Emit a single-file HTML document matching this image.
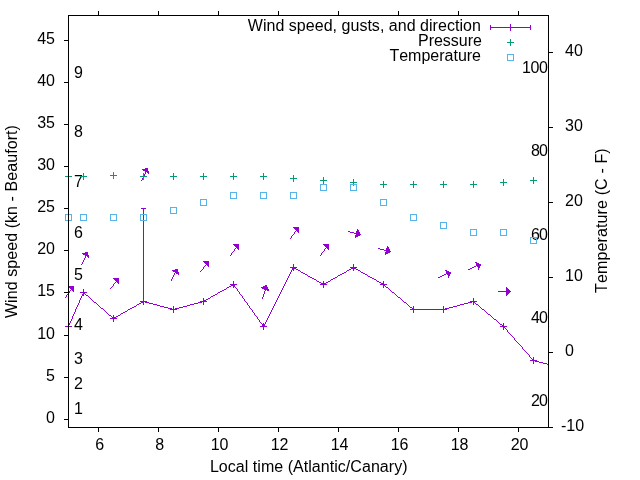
<!DOCTYPE html>
<html><head><meta charset="utf-8"><title>Wind plot</title>
<style>
html,body{margin:0;padding:0;background:#fff;}
svg{display:block}
text{font-kerning:none;font-family:"Liberation Sans",sans-serif;font-size:16px;fill:#000}
</style></head><body>
<svg width="640" height="480" viewBox="0 0 640 480">
<rect width="640" height="480" fill="#fff"/>
<g>
<text x="74" y="414" text-anchor="start" >1</text>
<text x="74" y="389" text-anchor="start" >2</text>
<text x="74" y="364" text-anchor="start" >3</text>
<text x="74" y="330" text-anchor="start" >4</text>
<text x="74" y="280" text-anchor="start" >5</text>
<text x="74" y="238" text-anchor="start" >6</text>
<text x="74" y="187" text-anchor="start" >7</text>
<text x="74" y="137" text-anchor="start" >8</text>
<text x="74" y="78" text-anchor="start" >9</text>
<text x="548" y="406" text-anchor="end" textLength="17.1">20</text>
<text x="548" y="323" text-anchor="end" textLength="17.1">40</text>
<text x="548" y="240" text-anchor="end" textLength="17.1">60</text>
<text x="548" y="156" text-anchor="end" textLength="17.1">80</text>
<text x="548" y="73" text-anchor="end" textLength="25.95">100</text>
</g>
<g shape-rendering="crispEdges">
<path fill="#9400d3" d="M510 24h1v1h-1zM490 25h1v1h-1zM510 25h1v1h-1zM530 25h1v1h-1zM490 26h1v1h-1zM510 26h1v1h-1zM530 26h1v1h-1zM490 27h41v1h-41zM490 28h1v1h-1zM510 28h1v1h-1zM530 28h1v1h-1zM490 29h1v1h-1zM510 29h1v1h-1zM530 29h1v1h-1zM510 30h1v1h-1zM145 168h3v1h-3zM142 169h6v1h-6zM143 170h5v1h-5zM145 171h4v1h-4zM145 172h1v1h-1zM147 172h2v1h-2zM145 173h1v1h-1zM148 173h1v1h-1zM144 174h1v1h-1zM144 175h1v1h-1zM142 178h1v1h-1zM142 179h1v1h-1zM141 180h1v1h-1zM141 208h5v1h-5zM143 209h1v1h-1zM143 210h1v1h-1zM143 211h1v1h-1zM143 212h1v1h-1zM143 213h1v1h-1zM143 215h1v1h-1zM143 216h1v1h-1zM143 217h1v1h-1zM143 218h1v1h-1zM143 219h1v1h-1zM143 221h1v1h-1zM143 222h1v1h-1zM143 223h1v1h-1zM143 224h1v1h-1zM143 225h1v1h-1zM143 226h1v1h-1zM143 227h1v1h-1zM293 227h6v1h-6zM143 228h1v1h-1zM294 228h5v1h-5zM143 229h1v1h-1zM295 229h4v1h-4zM357 229h1v1h-1zM143 230h1v1h-1zM296 230h3v1h-3zM357 230h2v1h-2zM143 231h1v1h-1zM295 231h1v1h-1zM297 231h2v1h-2zM348 231h2v1h-2zM356 231h3v1h-3zM143 232h1v1h-1zM294 232h1v1h-1zM298 232h1v1h-1zM350 232h4v1h-4zM356 232h4v1h-4zM143 233h1v1h-1zM294 233h1v1h-1zM354 233h6v1h-6zM143 234h1v1h-1zM293 234h1v1h-1zM356 234h5v1h-5zM143 235h1v1h-1zM292 235h1v1h-1zM355 235h5v1h-5zM143 236h1v1h-1zM291 236h1v1h-1zM355 236h3v1h-3zM143 237h1v1h-1zM291 237h1v1h-1zM355 237h1v1h-1zM143 238h1v1h-1zM290 238h1v1h-1zM143 239h1v1h-1zM143 240h1v1h-1zM143 241h1v1h-1zM143 242h1v1h-1zM143 243h1v1h-1zM143 244h1v1h-1zM233 244h6v1h-6zM323 244h6v1h-6zM143 245h1v1h-1zM234 245h5v1h-5zM324 245h5v1h-5zM143 246h1v1h-1zM235 246h4v1h-4zM325 246h4v1h-4zM387 246h1v1h-1zM143 247h1v1h-1zM236 247h3v1h-3zM326 247h3v1h-3zM387 247h2v1h-2zM143 248h1v1h-1zM235 248h1v1h-1zM237 248h2v1h-2zM325 248h1v1h-1zM327 248h2v1h-2zM378 248h2v1h-2zM386 248h3v1h-3zM143 249h1v1h-1zM234 249h1v1h-1zM238 249h1v1h-1zM324 249h1v1h-1zM328 249h1v1h-1zM380 249h4v1h-4zM386 249h4v1h-4zM143 250h1v1h-1zM234 250h1v1h-1zM324 250h1v1h-1zM384 250h6v1h-6zM143 251h1v1h-1zM233 251h1v1h-1zM323 251h1v1h-1zM386 251h5v1h-5zM85 252h3v1h-3zM143 252h1v1h-1zM232 252h1v1h-1zM322 252h1v1h-1zM385 252h5v1h-5zM82 253h6v1h-6zM143 253h1v1h-1zM231 253h1v1h-1zM321 253h1v1h-1zM385 253h3v1h-3zM83 254h5v1h-5zM143 254h1v1h-1zM231 254h1v1h-1zM321 254h1v1h-1zM385 254h1v1h-1zM85 255h4v1h-4zM143 255h1v1h-1zM230 255h1v1h-1zM320 255h1v1h-1zM85 256h1v1h-1zM87 256h2v1h-2zM143 256h1v1h-1zM85 257h1v1h-1zM88 257h1v1h-1zM143 257h1v1h-1zM84 258h1v1h-1zM143 258h1v1h-1zM84 259h1v1h-1zM143 259h1v1h-1zM83 260h1v1h-1zM143 260h1v1h-1zM83 261h1v1h-1zM143 261h1v1h-1zM203 261h6v1h-6zM82 262h1v1h-1zM143 262h1v1h-1zM204 262h5v1h-5zM475 262h2v1h-2zM82 263h1v1h-1zM143 263h1v1h-1zM205 263h4v1h-4zM476 263h3v1h-3zM81 264h1v1h-1zM143 264h1v1h-1zM206 264h3v1h-3zM293 264h1v1h-1zM353 264h1v1h-1zM476 264h5v1h-5zM143 265h1v1h-1zM205 265h1v1h-1zM207 265h2v1h-2zM293 265h1v1h-1zM353 265h1v1h-1zM476 265h5v1h-5zM143 266h1v1h-1zM204 266h1v1h-1zM208 266h1v1h-1zM293 266h1v1h-1zM353 266h1v1h-1zM474 266h2v1h-2zM477 266h3v1h-3zM143 267h1v1h-1zM203 267h1v1h-1zM290 267h7v1h-7zM350 267h7v1h-7zM472 267h2v1h-2zM478 267h2v1h-2zM143 268h1v1h-1zM203 268h1v1h-1zM292 268h4v1h-4zM351 268h5v1h-5zM470 268h2v1h-2zM478 268h1v1h-1zM143 269h1v1h-1zM175 269h3v1h-3zM202 269h1v1h-1zM292 269h2v1h-2zM296 269h2v1h-2zM349 269h2v1h-2zM353 269h1v1h-1zM356 269h2v1h-2zM468 269h2v1h-2zM478 269h1v1h-1zM143 270h1v1h-1zM172 270h6v1h-6zM201 270h1v1h-1zM291 270h1v1h-1zM293 270h1v1h-1zM298 270h2v1h-2zM347 270h2v1h-2zM353 270h1v1h-1zM358 270h2v1h-2zM445 270h2v1h-2zM143 271h1v1h-1zM173 271h5v1h-5zM200 271h1v1h-1zM291 271h1v1h-1zM300 271h1v1h-1zM346 271h1v1h-1zM360 271h1v1h-1zM446 271h3v1h-3zM143 272h1v1h-1zM175 272h4v1h-4zM290 272h1v1h-1zM301 272h2v1h-2zM344 272h2v1h-2zM361 272h2v1h-2zM446 272h5v1h-5zM143 273h1v1h-1zM174 273h1v1h-1zM176 273h3v1h-3zM290 273h1v1h-1zM303 273h2v1h-2zM342 273h2v1h-2zM363 273h2v1h-2zM446 273h5v1h-5zM143 274h1v1h-1zM174 274h1v1h-1zM178 274h1v1h-1zM289 274h1v1h-1zM305 274h2v1h-2zM340 274h2v1h-2zM365 274h2v1h-2zM444 274h2v1h-2zM447 274h3v1h-3zM143 275h1v1h-1zM173 275h1v1h-1zM289 275h1v1h-1zM307 275h1v1h-1zM338 275h2v1h-2zM367 275h1v1h-1zM442 275h2v1h-2zM448 275h2v1h-2zM143 276h1v1h-1zM173 276h1v1h-1zM288 276h1v1h-1zM308 276h2v1h-2zM337 276h1v1h-1zM368 276h2v1h-2zM440 276h2v1h-2zM448 276h1v1h-1zM143 277h1v1h-1zM172 277h1v1h-1zM288 277h1v1h-1zM310 277h2v1h-2zM335 277h2v1h-2zM370 277h2v1h-2zM438 277h2v1h-2zM448 277h1v1h-1zM113 278h6v1h-6zM143 278h1v1h-1zM172 278h1v1h-1zM287 278h1v1h-1zM312 278h2v1h-2zM333 278h2v1h-2zM372 278h2v1h-2zM114 279h5v1h-5zM143 279h1v1h-1zM171 279h1v1h-1zM287 279h1v1h-1zM314 279h2v1h-2zM331 279h2v1h-2zM374 279h2v1h-2zM115 280h4v1h-4zM143 280h1v1h-1zM171 280h1v1h-1zM286 280h1v1h-1zM316 280h1v1h-1zM330 280h1v1h-1zM376 280h1v1h-1zM116 281h3v1h-3zM143 281h1v1h-1zM233 281h1v1h-1zM286 281h1v1h-1zM317 281h2v1h-2zM323 281h1v1h-1zM328 281h2v1h-2zM377 281h2v1h-2zM383 281h1v1h-1zM115 282h1v1h-1zM117 282h2v1h-2zM143 282h1v1h-1zM233 282h1v1h-1zM285 282h1v1h-1zM319 282h2v1h-2zM323 282h1v1h-1zM326 282h2v1h-2zM379 282h2v1h-2zM383 282h1v1h-1zM114 283h1v1h-1zM118 283h1v1h-1zM143 283h1v1h-1zM233 283h1v1h-1zM285 283h1v1h-1zM321 283h5v1h-5zM381 283h3v1h-3zM113 284h1v1h-1zM143 284h1v1h-1zM230 284h7v1h-7zM284 284h1v1h-1zM320 284h7v1h-7zM380 284h7v1h-7zM113 285h1v1h-1zM143 285h1v1h-1zM231 285h4v1h-4zM265 285h2v1h-2zM284 285h1v1h-1zM323 285h1v1h-1zM383 285h2v1h-2zM69 286h5v1h-5zM112 286h1v1h-1zM143 286h1v1h-1zM229 286h2v1h-2zM233 286h2v1h-2zM263 286h4v1h-4zM283 286h1v1h-1zM323 286h1v1h-1zM383 286h1v1h-1zM385 286h1v1h-1zM69 287h5v1h-5zM111 287h1v1h-1zM143 287h1v1h-1zM227 287h2v1h-2zM233 287h1v1h-1zM235 287h1v1h-1zM261 287h7v1h-7zM283 287h1v1h-1zM323 287h1v1h-1zM383 287h1v1h-1zM386 287h2v1h-2zM506 287h1v1h-1zM70 288h4v1h-4zM110 288h1v1h-1zM143 288h1v1h-1zM226 288h1v1h-1zM236 288h1v1h-1zM262 288h6v1h-6zM282 288h1v1h-1zM388 288h1v1h-1zM506 288h2v1h-2zM71 289h3v1h-3zM83 289h1v1h-1zM143 289h1v1h-1zM224 289h2v1h-2zM237 289h1v1h-1zM264 289h5v1h-5zM282 289h1v1h-1zM389 289h1v1h-1zM506 289h3v1h-3zM70 290h1v1h-1zM72 290h2v1h-2zM83 290h1v1h-1zM143 290h1v1h-1zM222 290h2v1h-2zM237 290h1v1h-1zM265 290h1v1h-1zM267 290h2v1h-2zM281 290h1v1h-1zM390 290h1v1h-1zM506 290h4v1h-4zM69 291h1v1h-1zM73 291h1v1h-1zM83 291h1v1h-1zM143 291h1v1h-1zM220 291h2v1h-2zM238 291h1v1h-1zM264 291h1v1h-1zM281 291h1v1h-1zM391 291h1v1h-1zM498 291h13v1h-13zM69 292h1v1h-1zM80 292h7v1h-7zM143 292h1v1h-1zM218 292h2v1h-2zM239 292h1v1h-1zM264 292h1v1h-1zM280 292h1v1h-1zM392 292h2v1h-2zM506 292h4v1h-4zM83 293h2v1h-2zM143 293h1v1h-1zM217 293h1v1h-1zM239 293h1v1h-1zM264 293h1v1h-1zM280 293h1v1h-1zM394 293h1v1h-1zM506 293h3v1h-3zM67 294h1v1h-1zM82 294h2v1h-2zM85 294h1v1h-1zM143 294h1v1h-1zM215 294h2v1h-2zM240 294h1v1h-1zM263 294h1v1h-1zM279 294h1v1h-1zM395 294h1v1h-1zM506 294h2v1h-2zM66 295h1v1h-1zM82 295h2v1h-2zM86 295h2v1h-2zM143 295h1v1h-1zM213 295h2v1h-2zM241 295h1v1h-1zM263 295h1v1h-1zM279 295h1v1h-1zM396 295h1v1h-1zM506 295h1v1h-1zM66 296h1v1h-1zM81 296h1v1h-1zM88 296h1v1h-1zM143 296h1v1h-1zM211 296h2v1h-2zM242 296h1v1h-1zM263 296h1v1h-1zM278 296h1v1h-1zM397 296h1v1h-1zM65 297h1v1h-1zM81 297h1v1h-1zM89 297h1v1h-1zM143 297h1v1h-1zM210 297h1v1h-1zM242 297h1v1h-1zM262 297h1v1h-1zM278 297h1v1h-1zM398 297h2v1h-2zM80 298h1v1h-1zM90 298h1v1h-1zM143 298h1v1h-1zM203 298h1v1h-1zM208 298h2v1h-2zM243 298h1v1h-1zM262 298h1v1h-1zM277 298h1v1h-1zM400 298h1v1h-1zM473 298h1v1h-1zM80 299h1v1h-1zM91 299h1v1h-1zM143 299h1v1h-1zM203 299h1v1h-1zM206 299h2v1h-2zM244 299h1v1h-1zM277 299h1v1h-1zM401 299h1v1h-1zM473 299h1v1h-1zM79 300h1v1h-1zM92 300h1v1h-1zM143 300h1v1h-1zM203 300h3v1h-3zM244 300h1v1h-1zM276 300h1v1h-1zM402 300h1v1h-1zM473 300h1v1h-1zM79 301h1v1h-1zM93 301h1v1h-1zM140 301h7v1h-7zM200 301h7v1h-7zM245 301h1v1h-1zM276 301h1v1h-1zM403 301h1v1h-1zM470 301h7v1h-7zM79 302h1v1h-1zM94 302h2v1h-2zM141 302h3v1h-3zM145 302h4v1h-4zM198 302h4v1h-4zM203 302h1v1h-1zM246 302h1v1h-1zM275 302h1v1h-1zM404 302h2v1h-2zM468 302h4v1h-4zM473 302h2v1h-2zM78 303h1v1h-1zM96 303h1v1h-1zM139 303h2v1h-2zM143 303h1v1h-1zM149 303h4v1h-4zM194 303h4v1h-4zM203 303h1v1h-1zM247 303h1v1h-1zM275 303h1v1h-1zM406 303h1v1h-1zM464 303h4v1h-4zM473 303h1v1h-1zM475 303h1v1h-1zM78 304h1v1h-1zM97 304h1v1h-1zM137 304h2v1h-2zM143 304h1v1h-1zM153 304h4v1h-4zM190 304h4v1h-4zM203 304h1v1h-1zM247 304h1v1h-1zM274 304h1v1h-1zM407 304h1v1h-1zM460 304h4v1h-4zM473 304h1v1h-1zM476 304h2v1h-2zM77 305h1v1h-1zM98 305h1v1h-1zM136 305h1v1h-1zM157 305h3v1h-3zM187 305h3v1h-3zM248 305h1v1h-1zM274 305h1v1h-1zM408 305h1v1h-1zM457 305h3v1h-3zM478 305h1v1h-1zM77 306h1v1h-1zM99 306h1v1h-1zM134 306h2v1h-2zM160 306h4v1h-4zM173 306h1v1h-1zM183 306h4v1h-4zM249 306h1v1h-1zM273 306h1v1h-1zM409 306h1v1h-1zM413 306h1v1h-1zM443 306h1v1h-1zM453 306h4v1h-4zM479 306h1v1h-1zM76 307h1v1h-1zM100 307h1v1h-1zM132 307h2v1h-2zM164 307h4v1h-4zM173 307h1v1h-1zM179 307h4v1h-4zM249 307h1v1h-1zM273 307h1v1h-1zM410 307h2v1h-2zM413 307h1v1h-1zM443 307h1v1h-1zM449 307h4v1h-4zM480 307h1v1h-1zM76 308h1v1h-1zM101 308h2v1h-2zM130 308h2v1h-2zM168 308h4v1h-4zM173 308h1v1h-1zM175 308h4v1h-4zM250 308h1v1h-1zM272 308h1v1h-1zM412 308h2v1h-2zM443 308h1v1h-1zM445 308h4v1h-4zM481 308h1v1h-1zM75 309h1v1h-1zM103 309h1v1h-1zM128 309h2v1h-2zM170 309h7v1h-7zM251 309h1v1h-1zM272 309h1v1h-1zM410 309h37v1h-37zM482 309h2v1h-2zM75 310h1v1h-1zM104 310h1v1h-1zM127 310h1v1h-1zM173 310h1v1h-1zM252 310h1v1h-1zM271 310h1v1h-1zM413 310h1v1h-1zM443 310h1v1h-1zM484 310h1v1h-1zM75 311h1v1h-1zM105 311h1v1h-1zM125 311h2v1h-2zM173 311h1v1h-1zM252 311h1v1h-1zM271 311h1v1h-1zM413 311h1v1h-1zM443 311h1v1h-1zM485 311h1v1h-1zM74 312h1v1h-1zM106 312h1v1h-1zM123 312h2v1h-2zM173 312h1v1h-1zM253 312h1v1h-1zM270 312h1v1h-1zM413 312h1v1h-1zM443 312h1v1h-1zM486 312h1v1h-1zM74 313h1v1h-1zM107 313h1v1h-1zM121 313h2v1h-2zM254 313h1v1h-1zM270 313h1v1h-1zM487 313h1v1h-1zM73 314h1v1h-1zM108 314h1v1h-1zM120 314h1v1h-1zM254 314h1v1h-1zM269 314h1v1h-1zM488 314h2v1h-2zM73 315h1v1h-1zM109 315h2v1h-2zM113 315h1v1h-1zM118 315h2v1h-2zM255 315h1v1h-1zM269 315h1v1h-1zM490 315h1v1h-1zM72 316h1v1h-1zM111 316h1v1h-1zM113 316h1v1h-1zM116 316h2v1h-2zM256 316h1v1h-1zM268 316h1v1h-1zM491 316h1v1h-1zM72 317h1v1h-1zM112 317h4v1h-4zM257 317h1v1h-1zM268 317h1v1h-1zM492 317h1v1h-1zM72 318h1v1h-1zM110 318h7v1h-7zM257 318h1v1h-1zM267 318h1v1h-1zM493 318h1v1h-1zM71 319h1v1h-1zM113 319h1v1h-1zM258 319h1v1h-1zM267 319h1v1h-1zM494 319h2v1h-2zM71 320h1v1h-1zM113 320h1v1h-1zM259 320h1v1h-1zM266 320h1v1h-1zM496 320h1v1h-1zM70 321h1v1h-1zM113 321h1v1h-1zM259 321h1v1h-1zM266 321h1v1h-1zM497 321h1v1h-1zM70 322h1v1h-1zM260 322h1v1h-1zM265 322h1v1h-1zM498 322h1v1h-1zM69 323h1v1h-1zM261 323h1v1h-1zM263 323h1v1h-1zM265 323h1v1h-1zM499 323h1v1h-1zM503 323h1v1h-1zM69 324h1v1h-1zM262 324h3v1h-3zM500 324h2v1h-2zM503 324h1v1h-1zM262 325h3v1h-3zM502 325h2v1h-2zM65 326h3v1h-3zM69 326h3v1h-3zM260 326h7v1h-7zM500 326h7v1h-7zM263 327h1v1h-1zM503 327h2v1h-2zM263 328h1v1h-1zM503 328h1v1h-1zM505 328h1v1h-1zM263 329h1v1h-1zM503 329h1v1h-1zM506 329h1v1h-1zM507 330h1v1h-1zM507 331h1v1h-1zM508 332h1v1h-1zM509 333h1v1h-1zM510 334h1v1h-1zM511 335h1v1h-1zM512 336h1v1h-1zM513 337h1v1h-1zM514 338h1v1h-1zM514 339h1v1h-1zM515 340h1v1h-1zM516 341h1v1h-1zM517 342h1v1h-1zM518 343h1v1h-1zM519 344h1v1h-1zM520 345h1v1h-1zM521 346h1v1h-1zM522 347h1v1h-1zM522 348h1v1h-1zM523 349h1v1h-1zM524 350h1v1h-1zM525 351h1v1h-1zM526 352h1v1h-1zM527 353h1v1h-1zM528 354h1v1h-1zM529 355h1v1h-1zM529 356h1v1h-1zM530 357h1v1h-1zM533 357h1v1h-1zM531 358h1v1h-1zM533 358h1v1h-1zM532 359h2v1h-2zM530 360h7v1h-7zM533 361h1v1h-1zM535 361h4v1h-4zM533 362h1v1h-1zM539 362h4v1h-4zM533 363h1v1h-1zM543 363h4v1h-4zM547 364h1v1h-1z"/>
<path fill="#009e73" d="M510 39h1v1h-1zM510 40h1v1h-1zM510 41h1v1h-1zM507 42h7v1h-7zM510 43h1v1h-1zM510 44h1v1h-1zM510 45h1v1h-1zM113 172h1v1h-1zM83 173h1v1h-1zM113 173h1v1h-1zM143 173h1v1h-1zM173 173h1v1h-1zM203 173h1v1h-1zM233 173h1v1h-1zM263 173h1v1h-1zM83 174h1v1h-1zM113 174h1v1h-1zM143 174h1v1h-1zM173 174h1v1h-1zM203 174h1v1h-1zM233 174h1v1h-1zM263 174h1v1h-1zM83 175h1v1h-1zM110 175h7v1h-7zM143 175h1v1h-1zM173 175h1v1h-1zM203 175h1v1h-1zM233 175h1v1h-1zM263 175h1v1h-1zM293 175h1v1h-1zM65 176h3v1h-3zM69 176h3v1h-3zM80 176h7v1h-7zM113 176h1v1h-1zM140 176h7v1h-7zM170 176h7v1h-7zM200 176h7v1h-7zM230 176h7v1h-7zM260 176h7v1h-7zM293 176h1v1h-1zM83 177h1v1h-1zM113 177h1v1h-1zM143 177h1v1h-1zM173 177h1v1h-1zM203 177h1v1h-1zM233 177h1v1h-1zM263 177h1v1h-1zM293 177h1v1h-1zM323 177h1v1h-1zM533 177h1v1h-1zM83 178h1v1h-1zM113 178h1v1h-1zM143 178h1v1h-1zM173 178h1v1h-1zM203 178h1v1h-1zM233 178h1v1h-1zM263 178h1v1h-1zM290 178h7v1h-7zM323 178h1v1h-1zM533 178h1v1h-1zM83 179h1v1h-1zM143 179h1v1h-1zM173 179h1v1h-1zM203 179h1v1h-1zM233 179h1v1h-1zM263 179h1v1h-1zM293 179h1v1h-1zM323 179h1v1h-1zM353 179h1v1h-1zM503 179h1v1h-1zM533 179h1v1h-1zM293 180h1v1h-1zM320 180h7v1h-7zM353 180h1v1h-1zM503 180h1v1h-1zM530 180h7v1h-7zM293 181h1v1h-1zM323 181h1v1h-1zM353 181h1v1h-1zM383 181h1v1h-1zM413 181h1v1h-1zM443 181h1v1h-1zM473 181h1v1h-1zM503 181h1v1h-1zM533 181h1v1h-1zM323 182h1v1h-1zM350 182h7v1h-7zM383 182h1v1h-1zM413 182h1v1h-1zM443 182h1v1h-1zM473 182h1v1h-1zM500 182h7v1h-7zM533 182h1v1h-1zM323 183h1v1h-1zM353 183h1v1h-1zM383 183h1v1h-1zM413 183h1v1h-1zM443 183h1v1h-1zM473 183h1v1h-1zM503 183h1v1h-1zM533 183h1v1h-1zM380 184h7v1h-7zM410 184h7v1h-7zM440 184h7v1h-7zM470 184h7v1h-7zM503 184h1v1h-1zM353 185h1v1h-1zM383 185h1v1h-1zM413 185h1v1h-1zM443 185h1v1h-1zM473 185h1v1h-1zM503 185h1v1h-1zM383 186h1v1h-1zM413 186h1v1h-1zM443 186h1v1h-1zM473 186h1v1h-1zM383 187h1v1h-1zM413 187h1v1h-1zM443 187h1v1h-1zM473 187h1v1h-1z"/>
<path fill="#56b4e9" d="M507 54h7v1h-7zM507 55h1v1h-1zM513 55h1v1h-1zM507 56h1v1h-1zM513 56h1v1h-1zM507 57h1v1h-1zM513 57h1v1h-1zM507 58h1v1h-1zM513 58h1v1h-1zM507 59h1v1h-1zM513 59h1v1h-1zM507 60h7v1h-7zM320 184h7v1h-7zM350 184h7v1h-7zM320 185h1v1h-1zM326 185h1v1h-1zM350 185h1v1h-1zM356 185h1v1h-1zM320 186h1v1h-1zM326 186h1v1h-1zM350 186h1v1h-1zM356 186h1v1h-1zM320 187h1v1h-1zM326 187h1v1h-1zM350 187h1v1h-1zM356 187h1v1h-1zM320 188h1v1h-1zM326 188h1v1h-1zM350 188h1v1h-1zM356 188h1v1h-1zM320 189h1v1h-1zM326 189h1v1h-1zM350 189h1v1h-1zM356 189h1v1h-1zM320 190h7v1h-7zM350 190h7v1h-7zM230 192h7v1h-7zM260 192h7v1h-7zM290 192h7v1h-7zM230 193h1v1h-1zM236 193h1v1h-1zM260 193h1v1h-1zM266 193h1v1h-1zM290 193h1v1h-1zM296 193h1v1h-1zM230 194h1v1h-1zM236 194h1v1h-1zM260 194h1v1h-1zM266 194h1v1h-1zM290 194h1v1h-1zM296 194h1v1h-1zM230 195h1v1h-1zM236 195h1v1h-1zM260 195h1v1h-1zM266 195h1v1h-1zM290 195h1v1h-1zM296 195h1v1h-1zM230 196h1v1h-1zM236 196h1v1h-1zM260 196h1v1h-1zM266 196h1v1h-1zM290 196h1v1h-1zM296 196h1v1h-1zM230 197h1v1h-1zM236 197h1v1h-1zM260 197h1v1h-1zM266 197h1v1h-1zM290 197h1v1h-1zM296 197h1v1h-1zM230 198h7v1h-7zM260 198h7v1h-7zM290 198h7v1h-7zM200 199h7v1h-7zM380 199h7v1h-7zM200 200h1v1h-1zM206 200h1v1h-1zM380 200h1v1h-1zM386 200h1v1h-1zM200 201h1v1h-1zM206 201h1v1h-1zM380 201h1v1h-1zM386 201h1v1h-1zM200 202h1v1h-1zM206 202h1v1h-1zM380 202h1v1h-1zM386 202h1v1h-1zM200 203h1v1h-1zM206 203h1v1h-1zM380 203h1v1h-1zM386 203h1v1h-1zM200 204h1v1h-1zM206 204h1v1h-1zM380 204h1v1h-1zM386 204h1v1h-1zM200 205h7v1h-7zM380 205h7v1h-7zM170 207h7v1h-7zM170 208h1v1h-1zM176 208h1v1h-1zM170 209h1v1h-1zM176 209h1v1h-1zM170 210h1v1h-1zM176 210h1v1h-1zM170 211h1v1h-1zM176 211h1v1h-1zM170 212h1v1h-1zM176 212h1v1h-1zM170 213h7v1h-7zM65 214h3v1h-3zM69 214h3v1h-3zM80 214h7v1h-7zM110 214h7v1h-7zM140 214h7v1h-7zM410 214h7v1h-7zM65 215h1v1h-1zM71 215h1v1h-1zM80 215h1v1h-1zM86 215h1v1h-1zM110 215h1v1h-1zM116 215h1v1h-1zM140 215h1v1h-1zM146 215h1v1h-1zM410 215h1v1h-1zM416 215h1v1h-1zM65 216h1v1h-1zM71 216h1v1h-1zM80 216h1v1h-1zM86 216h1v1h-1zM110 216h1v1h-1zM116 216h1v1h-1zM140 216h1v1h-1zM146 216h1v1h-1zM410 216h1v1h-1zM416 216h1v1h-1zM65 217h1v1h-1zM71 217h1v1h-1zM80 217h1v1h-1zM86 217h1v1h-1zM110 217h1v1h-1zM116 217h1v1h-1zM140 217h1v1h-1zM146 217h1v1h-1zM410 217h1v1h-1zM416 217h1v1h-1zM65 218h1v1h-1zM71 218h1v1h-1zM80 218h1v1h-1zM86 218h1v1h-1zM110 218h1v1h-1zM116 218h1v1h-1zM140 218h1v1h-1zM146 218h1v1h-1zM410 218h1v1h-1zM416 218h1v1h-1zM65 219h1v1h-1zM71 219h1v1h-1zM80 219h1v1h-1zM86 219h1v1h-1zM110 219h1v1h-1zM116 219h1v1h-1zM140 219h1v1h-1zM146 219h1v1h-1zM410 219h1v1h-1zM416 219h1v1h-1zM65 220h3v1h-3zM69 220h3v1h-3zM80 220h7v1h-7zM110 220h7v1h-7zM140 220h7v1h-7zM410 220h7v1h-7zM440 222h7v1h-7zM440 223h1v1h-1zM446 223h1v1h-1zM440 224h1v1h-1zM446 224h1v1h-1zM440 225h1v1h-1zM446 225h1v1h-1zM440 226h1v1h-1zM446 226h1v1h-1zM440 227h1v1h-1zM446 227h1v1h-1zM440 228h7v1h-7zM470 229h7v1h-7zM500 229h7v1h-7zM470 230h1v1h-1zM476 230h1v1h-1zM500 230h1v1h-1zM506 230h1v1h-1zM470 231h1v1h-1zM476 231h1v1h-1zM500 231h1v1h-1zM506 231h1v1h-1zM470 232h1v1h-1zM476 232h1v1h-1zM500 232h1v1h-1zM506 232h1v1h-1zM470 233h1v1h-1zM476 233h1v1h-1zM500 233h1v1h-1zM506 233h1v1h-1zM470 234h1v1h-1zM476 234h1v1h-1zM500 234h1v1h-1zM506 234h1v1h-1zM470 235h7v1h-7zM500 235h7v1h-7zM530 237h7v1h-7zM530 238h1v1h-1zM536 238h1v1h-1zM530 239h1v1h-1zM536 239h1v1h-1zM530 240h1v1h-1zM536 240h1v1h-1zM530 241h1v1h-1zM536 241h1v1h-1zM530 242h1v1h-1zM536 242h1v1h-1zM530 243h7v1h-7z"/>
<path fill="#000000" d="M98 11h1v1h-1zM158 11h1v1h-1zM218 11h1v1h-1zM278 11h1v1h-1zM338 11h1v1h-1zM398 11h1v1h-1zM458 11h1v1h-1zM518 11h1v1h-1zM98 12h1v1h-1zM158 12h1v1h-1zM218 12h1v1h-1zM278 12h1v1h-1zM338 12h1v1h-1zM398 12h1v1h-1zM458 12h1v1h-1zM518 12h1v1h-1zM98 13h1v1h-1zM158 13h1v1h-1zM218 13h1v1h-1zM278 13h1v1h-1zM338 13h1v1h-1zM398 13h1v1h-1zM458 13h1v1h-1zM518 13h1v1h-1zM98 14h1v1h-1zM158 14h1v1h-1zM218 14h1v1h-1zM278 14h1v1h-1zM338 14h1v1h-1zM398 14h1v1h-1zM458 14h1v1h-1zM518 14h1v1h-1zM68 15h481v1h-481zM68 16h1v1h-1zM548 16h1v1h-1zM68 17h1v1h-1zM548 17h1v1h-1zM68 18h1v1h-1zM548 18h1v1h-1zM68 19h1v1h-1zM548 19h1v1h-1zM68 20h1v1h-1zM548 20h1v1h-1zM68 21h1v1h-1zM548 21h1v1h-1zM68 22h1v1h-1zM548 22h1v1h-1zM68 23h1v1h-1zM548 23h1v1h-1zM68 24h1v1h-1zM548 24h1v1h-1zM68 25h1v1h-1zM548 25h1v1h-1zM68 26h1v1h-1zM548 26h1v1h-1zM68 27h1v1h-1zM548 27h1v1h-1zM68 28h1v1h-1zM548 28h1v1h-1zM68 29h1v1h-1zM548 29h1v1h-1zM68 30h1v1h-1zM548 30h1v1h-1zM68 31h1v1h-1zM548 31h1v1h-1zM68 32h1v1h-1zM548 32h1v1h-1zM68 33h1v1h-1zM548 33h1v1h-1zM68 34h1v1h-1zM548 34h1v1h-1zM68 35h1v1h-1zM548 35h1v1h-1zM68 36h1v1h-1zM548 36h1v1h-1zM68 37h1v1h-1zM548 37h1v1h-1zM68 38h1v1h-1zM548 38h1v1h-1zM68 39h1v1h-1zM548 39h1v1h-1zM64 40h5v1h-5zM548 40h1v1h-1zM68 41h1v1h-1zM548 41h1v1h-1zM68 42h1v1h-1zM548 42h1v1h-1zM68 43h1v1h-1zM548 43h1v1h-1zM68 44h1v1h-1zM548 44h1v1h-1zM68 45h1v1h-1zM548 45h1v1h-1zM68 46h1v1h-1zM548 46h1v1h-1zM68 47h1v1h-1zM548 47h1v1h-1zM68 48h1v1h-1zM548 48h1v1h-1zM68 49h1v1h-1zM548 49h1v1h-1zM68 50h1v1h-1zM548 50h1v1h-1zM68 51h1v1h-1zM548 51h1v1h-1zM68 52h1v1h-1zM548 52h5v1h-5zM68 53h1v1h-1zM548 53h1v1h-1zM68 54h1v1h-1zM548 54h1v1h-1zM68 55h1v1h-1zM548 55h1v1h-1zM68 56h1v1h-1zM548 56h1v1h-1zM68 57h1v1h-1zM548 57h1v1h-1zM68 58h1v1h-1zM548 58h1v1h-1zM68 59h1v1h-1zM548 59h1v1h-1zM68 60h1v1h-1zM548 60h1v1h-1zM68 61h1v1h-1zM548 61h1v1h-1zM68 62h1v1h-1zM548 62h1v1h-1zM68 63h1v1h-1zM548 63h1v1h-1zM68 64h1v1h-1zM548 64h1v1h-1zM68 65h1v1h-1zM548 65h1v1h-1zM68 66h1v1h-1zM548 66h1v1h-1zM68 67h1v1h-1zM548 67h1v1h-1zM68 68h1v1h-1zM548 68h1v1h-1zM68 69h1v1h-1zM548 69h1v1h-1zM68 70h1v1h-1zM548 70h1v1h-1zM68 71h1v1h-1zM548 71h1v1h-1zM68 72h1v1h-1zM548 72h1v1h-1zM68 73h1v1h-1zM548 73h1v1h-1zM68 74h1v1h-1zM548 74h1v1h-1zM68 75h1v1h-1zM548 75h1v1h-1zM68 76h1v1h-1zM548 76h1v1h-1zM68 77h1v1h-1zM548 77h1v1h-1zM68 78h1v1h-1zM548 78h1v1h-1zM68 79h1v1h-1zM548 79h1v1h-1zM68 80h1v1h-1zM548 80h1v1h-1zM68 81h1v1h-1zM548 81h1v1h-1zM64 82h5v1h-5zM548 82h1v1h-1zM68 83h1v1h-1zM548 83h1v1h-1zM68 84h1v1h-1zM548 84h1v1h-1zM68 85h1v1h-1zM548 85h1v1h-1zM68 86h1v1h-1zM548 86h1v1h-1zM68 87h1v1h-1zM548 87h1v1h-1zM68 88h1v1h-1zM548 88h1v1h-1zM68 89h1v1h-1zM548 89h1v1h-1zM68 90h1v1h-1zM548 90h1v1h-1zM68 91h1v1h-1zM548 91h1v1h-1zM68 92h1v1h-1zM548 92h1v1h-1zM68 93h1v1h-1zM548 93h1v1h-1zM68 94h1v1h-1zM548 94h1v1h-1zM68 95h1v1h-1zM548 95h1v1h-1zM68 96h1v1h-1zM548 96h1v1h-1zM68 97h1v1h-1zM548 97h1v1h-1zM68 98h1v1h-1zM548 98h1v1h-1zM68 99h1v1h-1zM548 99h1v1h-1zM68 100h1v1h-1zM548 100h1v1h-1zM68 101h1v1h-1zM548 101h1v1h-1zM68 102h1v1h-1zM548 102h1v1h-1zM68 103h1v1h-1zM548 103h1v1h-1zM68 104h1v1h-1zM548 104h1v1h-1zM68 105h1v1h-1zM548 105h1v1h-1zM68 106h1v1h-1zM548 106h1v1h-1zM68 107h1v1h-1zM548 107h1v1h-1zM68 108h1v1h-1zM548 108h1v1h-1zM68 109h1v1h-1zM548 109h1v1h-1zM68 110h1v1h-1zM548 110h1v1h-1zM68 111h1v1h-1zM548 111h1v1h-1zM68 112h1v1h-1zM548 112h1v1h-1zM68 113h1v1h-1zM548 113h1v1h-1zM68 114h1v1h-1zM548 114h1v1h-1zM68 115h1v1h-1zM548 115h1v1h-1zM68 116h1v1h-1zM548 116h1v1h-1zM68 117h1v1h-1zM548 117h1v1h-1zM68 118h1v1h-1zM548 118h1v1h-1zM68 119h1v1h-1zM548 119h1v1h-1zM68 120h1v1h-1zM548 120h1v1h-1zM68 121h1v1h-1zM548 121h1v1h-1zM68 122h1v1h-1zM548 122h1v1h-1zM68 123h1v1h-1zM548 123h1v1h-1zM64 124h5v1h-5zM548 124h1v1h-1zM68 125h1v1h-1zM548 125h1v1h-1zM68 126h1v1h-1zM548 126h1v1h-1zM68 127h1v1h-1zM548 127h5v1h-5zM68 128h1v1h-1zM548 128h1v1h-1zM68 129h1v1h-1zM548 129h1v1h-1zM68 130h1v1h-1zM548 130h1v1h-1zM68 131h1v1h-1zM548 131h1v1h-1zM68 132h1v1h-1zM548 132h1v1h-1zM68 133h1v1h-1zM548 133h1v1h-1zM68 134h1v1h-1zM548 134h1v1h-1zM68 135h1v1h-1zM548 135h1v1h-1zM68 136h1v1h-1zM548 136h1v1h-1zM68 137h1v1h-1zM548 137h1v1h-1zM68 138h1v1h-1zM548 138h1v1h-1zM68 139h1v1h-1zM548 139h1v1h-1zM68 140h1v1h-1zM548 140h1v1h-1zM68 141h1v1h-1zM548 141h1v1h-1zM68 142h1v1h-1zM548 142h1v1h-1zM68 143h1v1h-1zM548 143h1v1h-1zM68 144h1v1h-1zM548 144h1v1h-1zM68 145h1v1h-1zM548 145h1v1h-1zM68 146h1v1h-1zM548 146h1v1h-1zM68 147h1v1h-1zM548 147h1v1h-1zM68 148h1v1h-1zM548 148h1v1h-1zM68 149h1v1h-1zM548 149h1v1h-1zM68 150h1v1h-1zM548 150h1v1h-1zM68 151h1v1h-1zM548 151h1v1h-1zM68 152h1v1h-1zM548 152h1v1h-1zM68 153h1v1h-1zM548 153h1v1h-1zM68 154h1v1h-1zM548 154h1v1h-1zM68 155h1v1h-1zM548 155h1v1h-1zM68 156h1v1h-1zM548 156h1v1h-1zM68 157h1v1h-1zM548 157h1v1h-1zM68 158h1v1h-1zM548 158h1v1h-1zM68 159h1v1h-1zM548 159h1v1h-1zM68 160h1v1h-1zM548 160h1v1h-1zM68 161h1v1h-1zM548 161h1v1h-1zM68 162h1v1h-1zM548 162h1v1h-1zM68 163h1v1h-1zM548 163h1v1h-1zM68 164h1v1h-1zM548 164h1v1h-1zM68 165h1v1h-1zM548 165h1v1h-1zM64 166h5v1h-5zM548 166h1v1h-1zM68 167h1v1h-1zM548 167h1v1h-1zM68 168h1v1h-1zM548 168h1v1h-1zM68 169h1v1h-1zM548 169h1v1h-1zM68 170h1v1h-1zM548 170h1v1h-1zM68 171h1v1h-1zM548 171h1v1h-1zM68 172h1v1h-1zM548 172h1v1h-1zM68 173h1v1h-1zM548 173h1v1h-1zM68 174h1v1h-1zM548 174h1v1h-1zM68 175h1v1h-1zM548 175h1v1h-1zM68 176h1v1h-1zM548 176h1v1h-1zM68 177h1v1h-1zM548 177h1v1h-1zM68 178h1v1h-1zM548 178h1v1h-1zM68 179h1v1h-1zM548 179h1v1h-1zM68 180h1v1h-1zM548 180h1v1h-1zM68 181h1v1h-1zM548 181h1v1h-1zM68 182h1v1h-1zM548 182h1v1h-1zM68 183h1v1h-1zM548 183h1v1h-1zM68 184h1v1h-1zM548 184h1v1h-1zM68 185h1v1h-1zM548 185h1v1h-1zM68 186h1v1h-1zM548 186h1v1h-1zM68 187h1v1h-1zM548 187h1v1h-1zM68 188h1v1h-1zM548 188h1v1h-1zM68 189h1v1h-1zM548 189h1v1h-1zM68 190h1v1h-1zM548 190h1v1h-1zM68 191h1v1h-1zM548 191h1v1h-1zM68 192h1v1h-1zM548 192h1v1h-1zM68 193h1v1h-1zM548 193h1v1h-1zM68 194h1v1h-1zM548 194h1v1h-1zM68 195h1v1h-1zM548 195h1v1h-1zM68 196h1v1h-1zM548 196h1v1h-1zM68 197h1v1h-1zM548 197h1v1h-1zM68 198h1v1h-1zM548 198h1v1h-1zM68 199h1v1h-1zM548 199h1v1h-1zM68 200h1v1h-1zM548 200h1v1h-1zM68 201h1v1h-1zM548 201h1v1h-1zM68 202h1v1h-1zM548 202h5v1h-5zM68 203h1v1h-1zM548 203h1v1h-1zM68 204h1v1h-1zM548 204h1v1h-1zM68 205h1v1h-1zM548 205h1v1h-1zM68 206h1v1h-1zM548 206h1v1h-1zM68 207h1v1h-1zM548 207h1v1h-1zM64 208h5v1h-5zM548 208h1v1h-1zM68 209h1v1h-1zM548 209h1v1h-1zM68 210h1v1h-1zM548 210h1v1h-1zM68 211h1v1h-1zM548 211h1v1h-1zM68 212h1v1h-1zM548 212h1v1h-1zM68 213h1v1h-1zM548 213h1v1h-1zM68 214h1v1h-1zM548 214h1v1h-1zM68 215h1v1h-1zM548 215h1v1h-1zM68 216h1v1h-1zM548 216h1v1h-1zM68 217h1v1h-1zM548 217h1v1h-1zM68 218h1v1h-1zM548 218h1v1h-1zM68 219h1v1h-1zM548 219h1v1h-1zM68 220h1v1h-1zM548 220h1v1h-1zM68 221h1v1h-1zM548 221h1v1h-1zM68 222h1v1h-1zM548 222h1v1h-1zM68 223h1v1h-1zM548 223h1v1h-1zM68 224h1v1h-1zM548 224h1v1h-1zM68 225h1v1h-1zM548 225h1v1h-1zM68 226h1v1h-1zM548 226h1v1h-1zM68 227h1v1h-1zM548 227h1v1h-1zM68 228h1v1h-1zM548 228h1v1h-1zM68 229h1v1h-1zM548 229h1v1h-1zM68 230h1v1h-1zM548 230h1v1h-1zM68 231h1v1h-1zM548 231h1v1h-1zM68 232h1v1h-1zM548 232h1v1h-1zM68 233h1v1h-1zM548 233h1v1h-1zM68 234h1v1h-1zM548 234h1v1h-1zM68 235h1v1h-1zM548 235h1v1h-1zM68 236h1v1h-1zM548 236h1v1h-1zM68 237h1v1h-1zM548 237h1v1h-1zM68 238h1v1h-1zM548 238h1v1h-1zM68 239h1v1h-1zM548 239h1v1h-1zM68 240h1v1h-1zM548 240h1v1h-1zM68 241h1v1h-1zM548 241h1v1h-1zM68 242h1v1h-1zM548 242h1v1h-1zM68 243h1v1h-1zM548 243h1v1h-1zM68 244h1v1h-1zM548 244h1v1h-1zM68 245h1v1h-1zM548 245h1v1h-1zM68 246h1v1h-1zM548 246h1v1h-1zM68 247h1v1h-1zM548 247h1v1h-1zM68 248h1v1h-1zM548 248h1v1h-1zM68 249h1v1h-1zM548 249h1v1h-1zM64 250h5v1h-5zM548 250h1v1h-1zM68 251h1v1h-1zM548 251h1v1h-1zM68 252h1v1h-1zM548 252h1v1h-1zM68 253h1v1h-1zM548 253h1v1h-1zM68 254h1v1h-1zM548 254h1v1h-1zM68 255h1v1h-1zM548 255h1v1h-1zM68 256h1v1h-1zM548 256h1v1h-1zM68 257h1v1h-1zM548 257h1v1h-1zM68 258h1v1h-1zM548 258h1v1h-1zM68 259h1v1h-1zM548 259h1v1h-1zM68 260h1v1h-1zM548 260h1v1h-1zM68 261h1v1h-1zM548 261h1v1h-1zM68 262h1v1h-1zM548 262h1v1h-1zM68 263h1v1h-1zM548 263h1v1h-1zM68 264h1v1h-1zM548 264h1v1h-1zM68 265h1v1h-1zM548 265h1v1h-1zM68 266h1v1h-1zM548 266h1v1h-1zM68 267h1v1h-1zM548 267h1v1h-1zM68 268h1v1h-1zM548 268h1v1h-1zM68 269h1v1h-1zM548 269h1v1h-1zM68 270h1v1h-1zM548 270h1v1h-1zM68 271h1v1h-1zM548 271h1v1h-1zM68 272h1v1h-1zM548 272h1v1h-1zM68 273h1v1h-1zM548 273h1v1h-1zM68 274h1v1h-1zM548 274h1v1h-1zM68 275h1v1h-1zM548 275h1v1h-1zM68 276h1v1h-1zM548 276h1v1h-1zM68 277h1v1h-1zM548 277h5v1h-5zM68 278h1v1h-1zM548 278h1v1h-1zM68 279h1v1h-1zM548 279h1v1h-1zM68 280h1v1h-1zM548 280h1v1h-1zM68 281h1v1h-1zM548 281h1v1h-1zM68 282h1v1h-1zM548 282h1v1h-1zM68 283h1v1h-1zM548 283h1v1h-1zM68 284h1v1h-1zM548 284h1v1h-1zM68 285h1v1h-1zM548 285h1v1h-1zM68 286h1v1h-1zM548 286h1v1h-1zM68 287h1v1h-1zM548 287h1v1h-1zM68 288h1v1h-1zM548 288h1v1h-1zM68 289h1v1h-1zM548 289h1v1h-1zM68 290h1v1h-1zM548 290h1v1h-1zM68 291h1v1h-1zM548 291h1v1h-1zM64 292h5v1h-5zM548 292h1v1h-1zM68 293h1v1h-1zM548 293h1v1h-1zM68 294h1v1h-1zM548 294h1v1h-1zM68 295h1v1h-1zM548 295h1v1h-1zM68 296h1v1h-1zM548 296h1v1h-1zM68 297h1v1h-1zM548 297h1v1h-1zM68 298h1v1h-1zM548 298h1v1h-1zM68 299h1v1h-1zM548 299h1v1h-1zM68 300h1v1h-1zM548 300h1v1h-1zM68 301h1v1h-1zM548 301h1v1h-1zM68 302h1v1h-1zM548 302h1v1h-1zM68 303h1v1h-1zM548 303h1v1h-1zM68 304h1v1h-1zM548 304h1v1h-1zM68 305h1v1h-1zM548 305h1v1h-1zM68 306h1v1h-1zM548 306h1v1h-1zM68 307h1v1h-1zM548 307h1v1h-1zM68 308h1v1h-1zM548 308h1v1h-1zM68 309h1v1h-1zM548 309h1v1h-1zM68 310h1v1h-1zM548 310h1v1h-1zM68 311h1v1h-1zM548 311h1v1h-1zM68 312h1v1h-1zM548 312h1v1h-1zM68 313h1v1h-1zM548 313h1v1h-1zM68 314h1v1h-1zM548 314h1v1h-1zM68 315h1v1h-1zM548 315h1v1h-1zM68 316h1v1h-1zM548 316h1v1h-1zM68 317h1v1h-1zM548 317h1v1h-1zM68 318h1v1h-1zM548 318h1v1h-1zM68 319h1v1h-1zM548 319h1v1h-1zM68 320h1v1h-1zM548 320h1v1h-1zM68 321h1v1h-1zM548 321h1v1h-1zM68 322h1v1h-1zM548 322h1v1h-1zM68 323h1v1h-1zM548 323h1v1h-1zM68 324h1v1h-1zM548 324h1v1h-1zM68 325h1v1h-1zM548 325h1v1h-1zM68 326h1v1h-1zM548 326h1v1h-1zM68 327h1v1h-1zM548 327h1v1h-1zM68 328h1v1h-1zM548 328h1v1h-1zM68 329h1v1h-1zM548 329h1v1h-1zM68 330h1v1h-1zM548 330h1v1h-1zM68 331h1v1h-1zM548 331h1v1h-1zM68 332h1v1h-1zM548 332h1v1h-1zM68 333h1v1h-1zM548 333h1v1h-1zM68 334h1v1h-1zM548 334h1v1h-1zM64 335h5v1h-5zM548 335h1v1h-1zM68 336h1v1h-1zM548 336h1v1h-1zM68 337h1v1h-1zM548 337h1v1h-1zM68 338h1v1h-1zM548 338h1v1h-1zM68 339h1v1h-1zM548 339h1v1h-1zM68 340h1v1h-1zM548 340h1v1h-1zM68 341h1v1h-1zM548 341h1v1h-1zM68 342h1v1h-1zM548 342h1v1h-1zM68 343h1v1h-1zM548 343h1v1h-1zM68 344h1v1h-1zM548 344h1v1h-1zM68 345h1v1h-1zM548 345h1v1h-1zM68 346h1v1h-1zM548 346h1v1h-1zM68 347h1v1h-1zM548 347h1v1h-1zM68 348h1v1h-1zM548 348h1v1h-1zM68 349h1v1h-1zM548 349h1v1h-1zM68 350h1v1h-1zM548 350h1v1h-1zM68 351h1v1h-1zM548 351h1v1h-1zM68 352h1v1h-1zM548 352h5v1h-5zM68 353h1v1h-1zM548 353h1v1h-1zM68 354h1v1h-1zM548 354h1v1h-1zM68 355h1v1h-1zM548 355h1v1h-1zM68 356h1v1h-1zM548 356h1v1h-1zM68 357h1v1h-1zM548 357h1v1h-1zM68 358h1v1h-1zM548 358h1v1h-1zM68 359h1v1h-1zM548 359h1v1h-1zM68 360h1v1h-1zM548 360h1v1h-1zM68 361h1v1h-1zM548 361h1v1h-1zM68 362h1v1h-1zM548 362h1v1h-1zM68 363h1v1h-1zM548 363h1v1h-1zM68 364h1v1h-1zM548 364h1v1h-1zM68 365h1v1h-1zM548 365h1v1h-1zM68 366h1v1h-1zM548 366h1v1h-1zM68 367h1v1h-1zM548 367h1v1h-1zM68 368h1v1h-1zM548 368h1v1h-1zM68 369h1v1h-1zM548 369h1v1h-1zM68 370h1v1h-1zM548 370h1v1h-1zM68 371h1v1h-1zM548 371h1v1h-1zM68 372h1v1h-1zM548 372h1v1h-1zM68 373h1v1h-1zM548 373h1v1h-1zM68 374h1v1h-1zM548 374h1v1h-1zM68 375h1v1h-1zM548 375h1v1h-1zM68 376h1v1h-1zM548 376h1v1h-1zM64 377h5v1h-5zM548 377h1v1h-1zM68 378h1v1h-1zM548 378h1v1h-1zM68 379h1v1h-1zM548 379h1v1h-1zM68 380h1v1h-1zM548 380h1v1h-1zM68 381h1v1h-1zM548 381h1v1h-1zM68 382h1v1h-1zM548 382h1v1h-1zM68 383h1v1h-1zM548 383h1v1h-1zM68 384h1v1h-1zM548 384h1v1h-1zM68 385h1v1h-1zM548 385h1v1h-1zM68 386h1v1h-1zM548 386h1v1h-1zM68 387h1v1h-1zM548 387h1v1h-1zM68 388h1v1h-1zM548 388h1v1h-1zM68 389h1v1h-1zM548 389h1v1h-1zM68 390h1v1h-1zM548 390h1v1h-1zM68 391h1v1h-1zM548 391h1v1h-1zM68 392h1v1h-1zM548 392h1v1h-1zM68 393h1v1h-1zM548 393h1v1h-1zM68 394h1v1h-1zM548 394h1v1h-1zM68 395h1v1h-1zM548 395h1v1h-1zM68 396h1v1h-1zM548 396h1v1h-1zM68 397h1v1h-1zM548 397h1v1h-1zM68 398h1v1h-1zM548 398h1v1h-1zM68 399h1v1h-1zM548 399h1v1h-1zM68 400h1v1h-1zM548 400h1v1h-1zM68 401h1v1h-1zM548 401h1v1h-1zM68 402h1v1h-1zM548 402h1v1h-1zM68 403h1v1h-1zM548 403h1v1h-1zM68 404h1v1h-1zM548 404h1v1h-1zM68 405h1v1h-1zM548 405h1v1h-1zM68 406h1v1h-1zM548 406h1v1h-1zM68 407h1v1h-1zM548 407h1v1h-1zM68 408h1v1h-1zM548 408h1v1h-1zM68 409h1v1h-1zM548 409h1v1h-1zM68 410h1v1h-1zM548 410h1v1h-1zM68 411h1v1h-1zM548 411h1v1h-1zM68 412h1v1h-1zM548 412h1v1h-1zM68 413h1v1h-1zM548 413h1v1h-1zM68 414h1v1h-1zM548 414h1v1h-1zM68 415h1v1h-1zM548 415h1v1h-1zM68 416h1v1h-1zM548 416h1v1h-1zM68 417h1v1h-1zM548 417h1v1h-1zM68 418h1v1h-1zM548 418h1v1h-1zM64 419h5v1h-5zM548 419h1v1h-1zM68 420h1v1h-1zM548 420h1v1h-1zM68 421h1v1h-1zM548 421h1v1h-1zM68 422h1v1h-1zM548 422h1v1h-1zM68 423h1v1h-1zM548 423h1v1h-1zM68 424h1v1h-1zM548 424h1v1h-1zM68 425h1v1h-1zM548 425h1v1h-1zM68 426h1v1h-1zM548 426h1v1h-1zM68 427h485v1h-485zM98 428h1v1h-1zM158 428h1v1h-1zM218 428h1v1h-1zM278 428h1v1h-1zM338 428h1v1h-1zM398 428h1v1h-1zM458 428h1v1h-1zM518 428h1v1h-1zM98 429h1v1h-1zM158 429h1v1h-1zM218 429h1v1h-1zM278 429h1v1h-1zM338 429h1v1h-1zM398 429h1v1h-1zM458 429h1v1h-1zM518 429h1v1h-1zM98 430h1v1h-1zM158 430h1v1h-1zM218 430h1v1h-1zM278 430h1v1h-1zM338 430h1v1h-1zM398 430h1v1h-1zM458 430h1v1h-1zM518 430h1v1h-1zM98 431h1v1h-1zM158 431h1v1h-1zM218 431h1v1h-1zM278 431h1v1h-1zM338 431h1v1h-1zM398 431h1v1h-1zM458 431h1v1h-1zM518 431h1v1h-1z"/>
</g>
<g>
<text x="55" y="423" text-anchor="end" >0</text>
<text x="55" y="381" text-anchor="end" >5</text>
<text x="55" y="339" text-anchor="end" >10</text>
<text x="55" y="296" text-anchor="end" >15</text>
<text x="55" y="254" text-anchor="end" >20</text>
<text x="55" y="212" text-anchor="end" >25</text>
<text x="55" y="170" text-anchor="end" >30</text>
<text x="55" y="128" text-anchor="end" >35</text>
<text x="55" y="86" text-anchor="end" >40</text>
<text x="55" y="44" text-anchor="end" >45</text>
<text x="561" y="431" text-anchor="start" >-10</text>
<text x="565" y="356" text-anchor="start" >0</text>
<text x="565" y="281" text-anchor="start" >10</text>
<text x="565" y="206" text-anchor="start" >20</text>
<text x="565" y="131" text-anchor="start" >30</text>
<text x="565" y="56" text-anchor="start" >40</text>
<text x="99.6" y="450" text-anchor="middle" >6</text>
<text x="159.6" y="450" text-anchor="middle" >8</text>
<text x="219.6" y="450" text-anchor="middle" >10</text>
<text x="279.6" y="450" text-anchor="middle" >12</text>
<text x="339.6" y="450" text-anchor="middle" >14</text>
<text x="399.6" y="450" text-anchor="middle" >16</text>
<text x="459.6" y="450" text-anchor="middle" >18</text>
<text x="519.6" y="450" text-anchor="middle" >20</text>
<text x="480.8" y="31" text-anchor="end" textLength="233">Wind speed, gusts, and direction</text>
<text x="482" y="46" text-anchor="end" >Pressure</text>
<text x="481" y="61" text-anchor="end" >Temperature</text>
<text x="308.7" y="472" text-anchor="middle" textLength="197.6">Local time (Atlantic/Canary)</text>
<text transform="translate(17,318.1) rotate(-90)" text-anchor="start" textLength="193">Wind speed (kn - Beaufort)</text>
<text transform="translate(607,293) rotate(-90)" text-anchor="start" textLength="144.7">Temperature (C - F)</text>
</g>
</svg>
</body></html>
